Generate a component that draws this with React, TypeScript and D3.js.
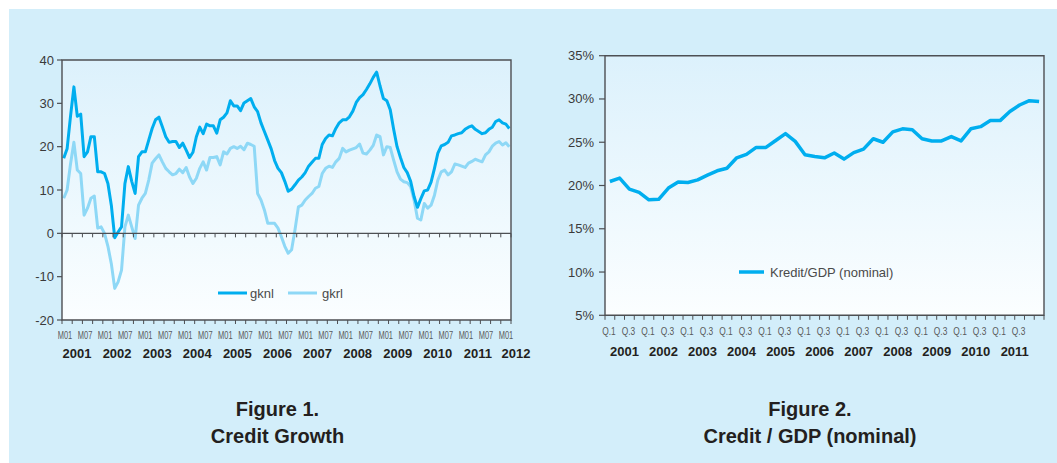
import * as d3 from 'd3';

// Figure 1: monthly credit growth (%), Jan 2001 .. Dec 2011
const gknl = [
  17.3, 19.5, 27, 33.8, 27, 27.5, 17.7, 18.8, 22.3, 22.3, 14.2, 14.2,
  13.8, 11.5, 6.5, -1.0, 0.3, 1.5, 11.5, 15.4, 12, 9.2, 17.7, 18.8,
  18.8, 21.5, 24.2, 26.2, 26.8, 24.6, 22.3, 21, 21.2, 21.2, 19.8, 20.8,
  19.2, 17.5, 18.7, 22.3, 24.5, 23, 25.2, 24.8, 24.8, 23.1, 26.2, 26.8,
  27.8, 30.6, 29.4, 29.4, 28.3, 30.1, 30.6, 31.1, 29.2, 28.1, 25.5, 23.5,
  21.5, 19.5, 16.8, 15, 14, 12, 9.7, 10.2, 11.2, 12.3, 13, 14,
  15.5, 16.4, 17.3, 17.3, 20.5, 21.9, 22.7, 22.5, 24.2, 25.5, 26.2, 26.2,
  26.9, 28.2, 30.2, 31.3, 32, 33.2, 34.5, 36, 37.2, 34, 31.1, 30.6,
  28.5, 24, 20, 17.5, 15.2, 14, 12, 8.5, 6, 8, 9.8, 10,
  11.8, 15, 18.5, 20.2, 20.5, 21, 22.5, 22.7, 23, 23.2, 24, 24.5,
  24.8, 24, 23.5, 23, 23.2, 24, 24.5, 25.8, 26.2, 25.5, 25.2, 24.2,
];
const gkrl = [
  8.1, 10, 16, 21, 14.6, 13.8, 4.2, 5.8, 8.1, 8.6, 1.2, 1.5,
  0, -3, -7, -12.7, -11.2, -8.5, 1.5, 4.2, 1.5, -1.2, 6.5, 8.1,
  9.2, 12.3, 16.2, 17.2, 18.1, 16.5, 15, 14.2, 13.5, 13.8, 14.8, 14,
  15.2, 13, 11.5, 12.7, 15, 16.5, 14.6, 17.5, 17.5, 17.7, 15.8, 18.8,
  18.3, 19.6, 20, 19.6, 20.1, 19.3, 20.8, 20.5, 20.1, 9.2, 7.7, 5.4,
  2.3, 2.3, 2.3, 1.2, -0.8, -3, -4.6, -3.8, 0.8, 6.1, 6.5, 7.7,
  8.5, 9.2, 10.4, 10.8, 13.8, 15, 15.5, 15.2, 16.5, 17.3, 19.6, 18.8,
  19.2, 19.5, 19.8, 20.6, 18.5, 18.3, 19.2, 20.3, 22.7, 22.3, 18.1, 20,
  19.8, 16.9, 14.2, 12.5, 11.9, 11.7, 10.8, 7.7, 3.5, 3.1, 6.9, 5.8,
  6.5, 8.8, 12.3, 14.2, 14.6, 13.5, 14.2, 16, 15.8, 15.5, 15.2, 16.2,
  16.6, 17.1, 16.8, 16.5, 18.1, 18.8, 20.1, 20.8, 21.2, 20.4, 20.9, 20,
];
const years1 = ['2001', '2002', '2003', '2004', '2005', '2006', '2007', '2008', '2009', '2010', '2011', '2012'];
const monthLabels = ['M01', 'M07'];
const yTicks1 = [-20, -10, 0, 10, 20, 30, 40];

// Figure 2: credit / GDP (%), 2001Q1 .. 2012Q1
const kreditGdp = [
  20.46, 20.85, 19.58, 19.2, 18.35, 18.4, 19.7, 20.4, 20.35, 20.65, 21.2, 21.7,
  22, 23.2, 23.6, 24.4, 24.4, 25.2, 26, 25.1, 23.55, 23.35, 23.2, 23.75,
  23.05, 23.8, 24.2, 25.4, 25, 26.2, 26.55, 26.45, 25.4, 25.15, 25.15, 25.65,
  25.15, 26.55, 26.8, 27.5, 27.5, 28.55, 29.3, 29.8, 29.7,
];
const years2 = ['2001', '2002', '2003', '2004', '2005', '2006', '2007', '2008', '2009', '2010', '2011'];
const quarterLabels = ['Q.1', 'Q.3'];
const yTicks2 = [5, 10, 15, 20, 25, 30, 35];

const W = 1057;
const H = 463;
const FONT = '"Liberation Sans", Arial, sans-serif';
const AXIS = '#4d4f53';
const DARK = '#00aeef';
const LIGHT = '#8ed8f6';

function CreditGrowth() {
  const left = 62, right = 511, top = 60, bottom = 320;
  const y = d3.scaleLinear().domain([-20, 40]).range([bottom, top]);
  const xb = d3.scaleBand<number>().domain(d3.range(gknl.length)).range([left, right]);
  const xm = (i: number) => (xb(i) as number) + xb.bandwidth() / 2;
  const xEdge = d3.scaleLinear().domain([0, gknl.length]).range([left, right]);
  const xLab = d3.scaleLinear().domain([0, gknl.length]).range([left + 3, right - 5]);
  const line = d3.line<number>().x((_, i) => xm(i)).y((d) => y(d));
  const ticks = d3.range(0, gknl.length + 1, 3);
  const labIdx = d3.range(0, gknl.length + 1, 6);

  return (
    <g>
      <rect x={left} y={top} width={right - left} height={bottom - top} fill="url(#plotGrad)" />
      <path d={line(gkrl) ?? ''} fill="none" stroke={LIGHT} strokeWidth={3} strokeLinejoin="round" />
      <path d={line(gknl) ?? ''} fill="none" stroke={DARK} strokeWidth={3} strokeLinejoin="round" />
      {/* frame */}
      <path d={`M${left},${top}H${right}V${bottom}H${left}Z`} fill="none" stroke={AXIS} strokeWidth={1.4} />
      {/* zero line + ticks */}
      <line x1={left} x2={right} y1={y(0)} y2={y(0)} stroke={AXIS} strokeWidth={1.4} />
      {ticks.map((t) => (
        <g key={t}>
          <line x1={xEdge(t)} x2={xEdge(t)} y1={y(0)} y2={y(0) + 4} stroke={AXIS} strokeWidth={1} />
          <line x1={xEdge(t)} x2={xEdge(t)} y1={bottom} y2={bottom + 4} stroke={AXIS} strokeWidth={1} />
        </g>
      ))}
      {yTicks1.map((t) => (
        <g key={t}>
          <line x1={left - 5} x2={left} y1={y(t)} y2={y(t)} stroke={AXIS} strokeWidth={1.2} />
          <text x={left - 8} y={y(t) + 4.5} textAnchor="end" fontSize={13} fill="#3a3a3a" fontFamily={FONT}>
            {t}
          </text>
        </g>
      ))}
      {labIdx.map((m, k) => (
        <text key={m} x={xLab(m)} y={338.5} textAnchor="middle" fontSize={10.5} fill="#5a5a5a"
          fontFamily={FONT} textLength={14.5} lengthAdjust="spacingAndGlyphs">
          {monthLabels[k % 2]}
        </text>
      ))}
      {years1.map((yr, k) => (
        <text key={yr} x={xLab(k * 12) + (k === years1.length - 1 ? 10 : 12)} y={357.5} textAnchor="middle"
          fontSize={13} fontWeight="bold" fill="#231f20" fontFamily={FONT}>
          {yr}
        </text>
      ))}
      {/* legend */}
      <line x1={218} x2={247} y1={293} y2={293} stroke={DARK} strokeWidth={3} />
      <text x={250} y={297.5} fontSize={13} fill="#4a4a4a" fontFamily={FONT}>gknl</text>
      <line x1={288} x2={317} y1={293} y2={293} stroke={LIGHT} strokeWidth={3} />
      <text x={322} y={297.5} fontSize={13} fill="#4a4a4a" fontFamily={FONT}>gkrl</text>
      {/* title */}
      <text x={277.5} y={415.5} textAnchor="middle" fontSize={20} fontWeight="bold" fill="#231f20" fontFamily={FONT}>
        Figure 1.
      </text>
      <text x={277.5} y={442.5} textAnchor="middle" fontSize={20} fontWeight="bold" fill="#231f20" fontFamily={FONT}>
        Credit Growth
      </text>
    </g>
  );
}

function CreditGdp() {
  const left = 605, right = 1044, top = 55.7, bottom = 315.3;
  const y = d3.scaleLinear().domain([5, 35]).range([bottom, top]);
  const xb = d3.scaleBand<number>().domain(d3.range(kreditGdp.length)).range([left, right]);
  const xq = (i: number) => (xb(i) as number) + xb.bandwidth() / 2;
  const xEdge = d3.scaleLinear().domain([0, kreditGdp.length]).range([left, right]);
  const line = d3.line<number>().x((_, i) => xq(i)).y((d) => y(d));
  const ticks = d3.range(0, kreditGdp.length + 1);
  const labIdx = d3.range(0, years2.length * 4, 2);

  return (
    <g>
      <rect x={left} y={top} width={right - left} height={bottom - top} fill="url(#plotGrad)" />
      <path d={line(kreditGdp) ?? ''} fill="none" stroke={DARK} strokeWidth={3.5} strokeLinejoin="round" />
      <path d={`M${left},${top}H${right}V${bottom}H${left}Z`} fill="none" stroke={AXIS} strokeWidth={1.4} />
      {ticks.map((t) => (
        <line key={t} x1={xEdge(t)} x2={xEdge(t)} y1={bottom} y2={bottom + 4.5}
          stroke={AXIS} strokeWidth={1} />
      ))}
      {yTicks2.map((t) => (
        <g key={t}>
          <line x1={left - 6} x2={left} y1={y(t)} y2={y(t)} stroke={AXIS} strokeWidth={1.2} />
          <text x={left - 11} y={y(t) + 4.5} textAnchor="end" fontSize={13} fill="#3a3a3a" fontFamily={FONT}>
            {t}%
          </text>
        </g>
      ))}
      {labIdx.map((q, k) => (
        <text key={q} x={xq(q) - 1} y={335} textAnchor="middle" fontSize={11} fill="#5a5a5a"
          fontFamily={FONT} textLength={13.5} lengthAdjust="spacingAndGlyphs">
          {quarterLabels[k % 2]}
        </text>
      ))}
      {years2.map((yr, k) => (
        <text key={yr} x={xEdge(k * 4 + 2)} y={356} textAnchor="middle"
          fontSize={13} fontWeight="bold" fill="#231f20" fontFamily={FONT}>
          {yr}
        </text>
      ))}
      <line x1={739} x2={764} y1={272} y2={272} stroke={DARK} strokeWidth={3.5} />
      <text x={770} y={276.5} fontSize={13} fill="#4a4a4a" fontFamily={FONT}>Kredit/GDP (nominal)</text>
      <text x={810} y={415.5} textAnchor="middle" fontSize={20} fontWeight="bold" fill="#231f20" fontFamily={FONT}>
        Figure 2.
      </text>
      <text x={810} y={442.5} textAnchor="middle" fontSize={20} fontWeight="bold" fill="#231f20" fontFamily={FONT}>
        Credit / GDP (nominal)
      </text>
    </g>
  );
}

export default function App() {
  return (
    <div>
      <style>{'body{margin:0}'}</style>
      <svg width={W} height={H} style={{ display: 'block' }}>
        <defs>
          <linearGradient id="plotGrad" x1="0" y1="0" x2="0" y2="1">
            <stop offset="0%" stopColor="#dcf1fc" />
            <stop offset="100%" stopColor="#fbfeff" />
          </linearGradient>
        </defs>
        <rect width={W} height={H} fill="#ffffff" />
        <rect x={9} y={9} width={W - 9} height={H - 9} fill="#d3eefa" />
        <CreditGrowth />
        <CreditGdp />
      </svg>
    </div>
  );
}
